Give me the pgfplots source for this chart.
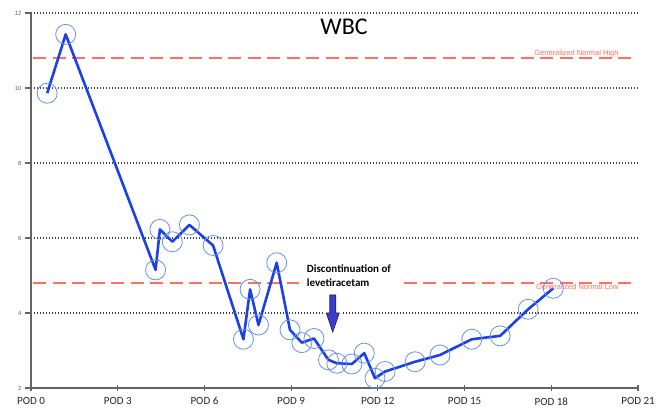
\documentclass[border=0pt]{standalone}
\usepackage{pgfplots}
\pgfplotsset{compat=1.18}
\usepackage{pgfplotstable}
\usepackage{fontspec}
\setmainfont{Carlito}
\newfontfamily\arialfont{Liberation Sans}

\definecolor{wbcline}{RGB}{28,64,232}
\definecolor{wbcring}{RGB}{100,145,240}
\definecolor{normred}{RGB}{255,110,95}
\definecolor{arrowblue}{RGB}{60,60,200}
\definecolor{arrowedge}{RGB}{30,30,110}
\definecolor{axisgray}{RGB}{100,100,100}

% WBC count per post-operative day
\pgfplotstableread{
day wbc
0.56 9.86
1.20 11.43
4.31 5.15
4.46 6.23
4.89 5.90
5.48 6.35
6.30 5.80
7.35 3.30
7.58 4.63
7.87 3.68
8.50 5.34
8.96 3.55
9.37 3.21
9.79 3.32
10.29 2.75
10.58 2.66
11.10 2.64
11.53 2.93
11.90 2.26
12.25 2.44
13.29 2.70
14.15 2.88
15.25 3.30
16.23 3.39
17.20 4.10
18.07 4.66
}\wbcdata

\begin{document}
\begin{tikzpicture}
\path[use as bounding box] (-31pt,-26pt) rectangle (637pt,388pt);
\begin{axis}[
    scale only axis,
    width=607pt, height=375pt,
    xmin=0, xmax=21, ymin=2, ymax=12,
    clip=false,
    axis lines=left,
    axis line style={-, axisgray, line width=1.4pt},
    xtick={0,3,...,21},
    xticklabels={POD 0,POD 3,POD 6,POD 9,POD 12,POD 15,POD 18,POD 21},
    ytick={2,4,...,12},
    xtick align=center, ytick align=outside,
    major tick length=6pt,
    every tick/.style={axisgray, line width=1.2pt},
    x tick label style={font=\fontsize{11}{12}\selectfont, text=black!85, yshift=-3pt},
    y tick label style={font=\arialfont\fontsize{6}{7}\selectfont, text=axisgray},
    /pgf/number format/assume math mode=true,
    ymajorgrids,
    major grid style={black!75, line width=1.1pt, dash pattern=on 1.1pt off 1.9pt},
]
% reference range lines
\addplot[normred, line width=1.1pt, dash pattern=on 13pt off 6.5pt] coordinates {(0.07,10.8) (20.95,10.8)};
\addplot[normred, line width=1.1pt, dash pattern=on 13pt off 6.5pt] coordinates {(0.07,4.8) (20.95,4.8)};

% rings then line
\addplot[only marks, mark=o, mark size=10pt, mark options={draw=wbcring, line width=0.8pt}] table[x=day, y=wbc] {\wbcdata};
\addplot[wbcline, line width=2.6pt, line join=round, mark=none] table[x=day, y=wbc] {\wbcdata};

\node[anchor=east, font=\arialfont\fontsize{7.5}{8}\selectfont, text=normred] at (axis cs:20.45,10.91) {Generalized Normal High};
\node[anchor=east, font=\arialfont\fontsize{7.5}{8}\selectfont, text=normred] at (axis cs:20.45,4.69) {Generalized Normal Low};

\node[font=\fontsize{24}{28}\selectfont] at (axis cs:10.83,11.63) {WBC};

\node[fill=white, align=left, font=\bfseries\fontsize{11}{14}\selectfont, inner xsep=8pt, inner ysep=2pt] at (axis cs:11.0,4.99) {Discontinuation of\\levetiracetam};

% arrow
\draw[white, line width=6pt, line join=miter] (axis cs:10.336,4.48) -- (axis cs:10.544,4.48) -- (axis cs:10.544,4.0) -- (axis cs:10.665,4.0) -- (axis cs:10.44,3.49) -- (axis cs:10.215,4.0) -- (axis cs:10.336,4.0) -- cycle;
\filldraw[fill=arrowblue, draw=arrowedge, line width=0.6pt] (axis cs:10.336,4.48) -- (axis cs:10.544,4.48) -- (axis cs:10.544,4.0) -- (axis cs:10.665,4.0) -- (axis cs:10.44,3.49) -- (axis cs:10.215,4.0) -- (axis cs:10.336,4.0) -- cycle;
\end{axis}
\end{tikzpicture}
\end{document}
